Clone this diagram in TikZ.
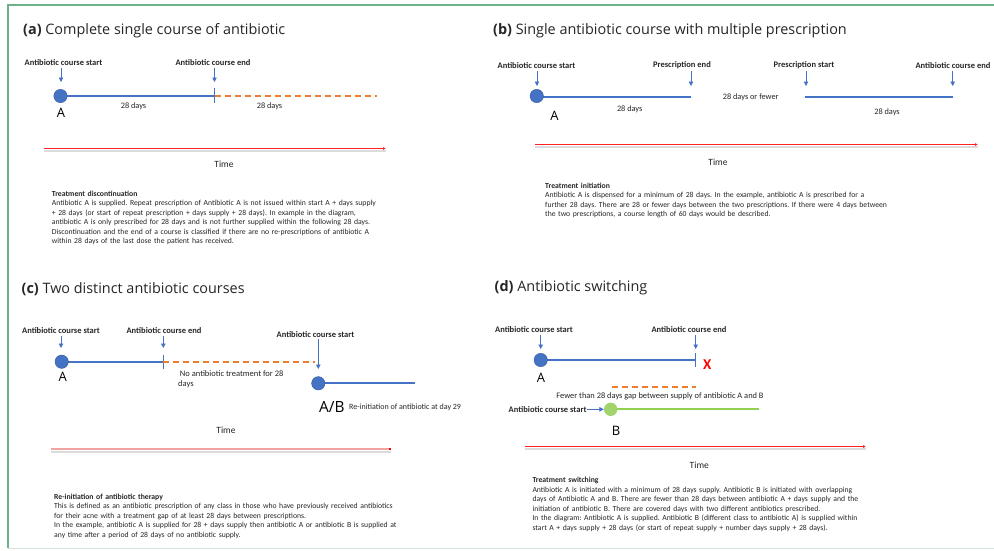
\documentclass[tikz,border=0pt]{standalone}
\usepackage{fontspec}
\setmainfont{Carlito}
\newfontfamily\ttlfont{Open Sans}
\usetikzlibrary{arrows.meta}
\definecolor{abblue}{HTML}{4472C4}
\definecolor{aborange}{HTML}{ED7D31}
\definecolor{abgreen}{HTML}{92D050}
\definecolor{abgreendot}{HTML}{A2D46E}
\definecolor{frameg}{HTML}{6DB38A}
\definecolor{framel}{HTML}{D3E3DC}
\definecolor{txt}{HTML}{262626}
\definecolor{axisred}{HTML}{FF2020}
\definecolor{axispink}{HTML}{F4A3A3}
\begin{document}
\frenchspacing
\begin{tikzpicture}[x=1pt,y=-1pt,
 ttl/.style={font=\ttlfont\fontsize{14.4}{17}\selectfont, anchor=west, inner sep=0pt, text=txt},
 lbl/.style={font=\bfseries\fontsize{8.5}{10}\selectfont, inner sep=0pt, text=txt},
 days/.style={font=\fontsize{8.3}{10.4}\selectfont, inner sep=0pt, text=txt},
 letter/.style={font=\ttlfont\fontsize{13}{15}\selectfont, inner sep=0pt, text=black},
 timelbl/.style={font=\fontsize{9.5}{11}\selectfont, inner sep=0pt, text=txt},
 para/.style={font=\fontsize{7.7}{9.5}\selectfont, anchor=base west, text width=420pt, align=left, inner sep=0pt, text=txt},
 dot/.style={circle, fill=abblue, draw=abblue!80!black, line width=0.4pt, minimum size=13.4pt, inner sep=0pt},
 gdot/.style={circle, fill=abgreendot, minimum size=13.4pt, inner sep=0pt},
 pointer/.style={abblue, line width=0.8pt, -{Triangle[length=4.5pt,width=4.5pt]}},
 course/.style={abblue, line width=1.5pt},
 gcourse/.style={abgreen, line width=1.5pt},
 gap/.style={aborange, line width=1.6pt, dash pattern=on 6pt off 4pt},
 timeaxis/.style={axisred, line width=0.9pt, -{Latex[length=3pt,width=3pt]}},
 pinkaxis/.style={axispink, line width=2pt},
 axshadow/.style={black!40, line width=2pt, opacity=0.35},
]
\useasboundingbox (0,0) rectangle (994,550);
\fill[white] (0,0) rectangle (994,550);
% frame
\draw[frameg, line width=2pt] (7,5) -- (994,5);
\draw[frameg, line width=2.5pt] (8,4) -- (8,548);
\draw[framel, line width=1.5pt] (8,548.5) -- (994,548.5);

% ---------------- (a)
\node[ttl] (aT) at (23,31) {\textbf{(a)} Complete single course of antibiotic};
\node[lbl] (aS) at (63.5,62.7) {Antibiotic course start};
\node[lbl] (aE) at (213,62.7) {Antibiotic course end};
\coordinate (aSt) at (61,82);
\coordinate (aEt) at (214.5,82);
\coordinate (aEnd) at (214.5,96);
\coordinate (aGap) at (377,96);
\draw[course] (61,96) -- (aEnd);
\node[dot] (aA) at (60.5,96) {};
\draw[pointer] ([yshift=-2pt]aS.south -| aSt) -- (aSt);
\draw[pointer] ([yshift=-2pt]aE.south -| aEt) -- (aEt);
\draw[course] ([yshift=8pt]aEnd) -- ([yshift=-7pt]aEnd);
\draw[gap] (aEnd) -- (aGap);
\node[days] (aD1) at (133.5,106.7) {28 days};
\node[days] (aD2) at (269.5,106.7) {28 days};
\node[letter] (aL) at (61,112.5) {A};
\coordinate (aX0) at (44.3,148.5);
\coordinate (aX1) at (386,148.5);
\draw[axshadow] ([yshift=-2pt]aX0) -- ([yshift=-2pt]aX1);
\draw[timeaxis] (aX0) -- (aX1);
\node[timelbl] (aTime) at (224,164.7) {Time};
\node[para] (aP) at (51.7,196) {\textbf{Treatment discontinuation}\\
Antibiotic A is supplied. Repeat prescription of Antibiotic A is not issued within start A + days supply\\
+ 28 days (or start of repeat prescription + days supply + 28 days). In example in the diagram,\\
antibiotic A is only prescribed for 28 days and is not further supplied within the following 28 days.\\
Discontinuation and the end of a course is classified if there are no re-prescriptions of antibiotic A\\
within 28 days of the last dose the patient has received.};

% ---------------- (b)
\node[ttl] (bT) at (493,31) {\textbf{(b)} Single antibiotic course with multiple prescription};
\node[lbl] (bS) at (536.5,65.7) {Antibiotic course start};
\node[lbl] (bPE) at (682,65.3) {Prescription end};
\node[lbl] (bPS) at (804,65.3) {Prescription start};
\node[lbl] (bE) at (953,65.7) {Antibiotic course end};
\coordinate (bSt) at (537,86);
\coordinate (bPEt) at (691,86);
\coordinate (bPSt) at (806,86);
\coordinate (bEt) at (952.7,86);
\draw[pointer] ([yshift=-2pt]bS.south -| bSt) -- (bSt);
\draw[pointer] ([yshift=-2pt]bPE.south -| bPEt) -- (bPEt);
\draw[pointer] ([yshift=-2pt]bPS.south -| bPSt) -- (bPSt);
\draw[pointer] ([yshift=-2pt]bE.south -| bEt) -- (bEt);
\coordinate (bL1e) at (691,97);
\coordinate (bL2s) at (805,97);
\coordinate (bL2e) at (952.7,97);
\draw[course] (537,97) -- (bL1e);
\node[dot] (bA) at (536.7,96) {};
\draw[course] (bL2s) -- (bL2e);
\node[days] (bGap) at (750.7,97.3) {28 days or fewer};
\node[days] (bD1) at (629.7,109) {28 days};
\node[days] (bD2) at (887,112) {28 days};
\node[letter] (bL) at (554.5,116) {A};
\coordinate (bX0) at (535,144.5);
\coordinate (bX1) at (978,144.5);
\draw[axshadow] ([yshift=-2pt]bX0) -- ([yshift=-2pt]bX1);
\draw[timeaxis] (bX0) -- (bX1);
\node[timelbl] (bTime) at (718,162) {Time};
\node[para] (bP) at (545,188.2) {\textbf{Treatment initiation}\\
Antibiotic A is dispensed for a minimum of 28 days. In the example, antibiotic A is prescribed for a\\
further 28 days. There are 28 or fewer days between the two prescriptions. If there were 4 days between\\
the two prescriptions, a course length of 60 days would be described.};

% ---------------- (c)
\node[ttl] (cT) at (21.5,289) {\textbf{(c)} Two distinct antibiotic courses};
\node[lbl] (cS) at (61,331) {Antibiotic course start};
\node[lbl] (cE) at (164,331) {Antibiotic course end};
\node[lbl] (cS2) at (315.5,334.3) {Antibiotic course start};
\coordinate (cSt) at (61,348);
\coordinate (cEt) at (163.3,348);
\coordinate (cS2t) at (318.3,369);
\draw[pointer] ([yshift=-2pt]cS.south -| cSt) -- (cSt);
\draw[pointer] ([yshift=-2pt]cE.south -| cEt) -- (cEt);
\draw[pointer] ([yshift=-1pt]cS2.south -| cS2t) -- (cS2t);
\coordinate (cEnd) at (163.3,362);
\coordinate (cGap) at (315,362);
\draw[course] (62,362) -- (cEnd);
\node[dot] (cA) at (61.7,361.7) {};
\draw[course] ([yshift=7pt]cEnd) -- ([yshift=-7pt]cEnd);
\draw[gap] (cEnd) -- (cGap);
\coordinate (cB2e) at (415,383);
\draw[course] (318.3,383) -- (cB2e);
\node[dot] (cB) at (318.3,383.3) {};
\node[letter] (cL) at (62.7,377) {A};
\node[days, anchor=north west, align=left, font=\fontsize{8.5}{10.7}\selectfont] (cNo) at (178,370) {\hspace{1.7pt}No antibiotic treatment for 28\\days};
\node[letter, anchor=west, font=\ttlfont\fontsize{15.4}{17}\selectfont] (cAB) at (319,406.5) {A/B};
\node[days, anchor=west, font=\fontsize{8}{10}\selectfont] (cRe) at (349,407.7) {Re-initiation of antibiotic at day 29};
\node[timelbl] (cTime) at (226,430.7) {Time};
\coordinate (cX0) at (51,449);
\coordinate (cX1) at (391,449);
\draw[axshadow] ([yshift=-2.5pt]cX0) -- ([yshift=-2.5pt]cX1);
\draw[pinkaxis] (cX0) -- (cX1);
\fill[red] (389,448) rectangle (391,450);
\node[para] (cP) at (54,499) {\textbf{Re-initiation of antibiotic therapy}\\
This is defined as an antibiotic prescription of any class in those who have previously received antibiotics\\
for their acne with a treatment gap of at least 28 days between prescriptions.\\
In the example, antibiotic A is supplied for 28 + days supply then antibiotic A or antibiotic B is supplied at\\
any time after a period of 28 days of no antibiotic supply.};

% ---------------- (d)
\node[ttl] (dT) at (494.5,288) {\textbf{(d)} Antibiotic switching};
\node[lbl] (dS) at (534,329.3) {Antibiotic course start};
\node[lbl] (dE) at (689,330) {Antibiotic course end};
\coordinate (dSt) at (540.7,349);
\coordinate (dEt) at (695.7,349);
\draw[pointer] ([yshift=-2pt]dS.south -| dSt) -- (dSt);
\draw[pointer] ([yshift=-2pt]dE.south -| dEt) -- (dEt);
\coordinate (dEnd) at (695.5,360);
\draw[course] (541,360) -- (dEnd);
\node[dot] (dA) at (540.7,360) {};
\draw[course] ([yshift=7pt]dEnd) -- ([yshift=-7pt]dEnd);
\node[font=\bfseries\fontsize{15}{17}\selectfont, text=red, inner sep=0pt] (dX) at (707.3,365) {X};
\node[letter] (dL) at (541,378.3) {A};
\coordinate (dG0) at (611.7,387);
\coordinate (dG1) at (695.5,387);
\draw[gap] (dG0) -- (dG1);
\node[days, font=\fontsize{8.4}{10}\selectfont] (dFew) at (660,396.7) {Fewer than 28 days gap between supply of antibiotic A and B};
\node[lbl, anchor=east] (dS2) at (586.7,409.3) {Antibiotic course start};
\coordinate (dBe) at (759.3,409);
\draw[gcourse] (611,409) -- (dBe);
\node[gdot] (dB) at (610.7,409.3) {};
\draw[pointer] (dS2.east) -- (dB.west);
\node[letter] (dLB) at (616,430.7) {B};
\coordinate (dX0) at (525,446.5);
\coordinate (dX1) at (866,446.5);
\draw[axshadow] ([yshift=-2pt]dX0) -- ([yshift=-2pt]dX1);
\draw[timeaxis] (dX0) -- (dX1);
\node[timelbl] (dTime) at (699.3,465.5) {Time};
\node[para] (dP) at (532.3,482.5) {\textbf{Treatment switching}\\
Antibiotic A is initiated with a minimum of 28 days supply. Antibiotic B is initiated with overlapping\\
days of Antibiotic A and B. There are fewer than 28 days between antibiotic A + days supply and the\\
initiation of antibiotic B. There are covered days with two different antibiotics prescribed.\\
In the diagram: Antibiotic A is supplied. Antibiotic B (different class to antibiotic A) is supplied within\\
start A + days supply + 28 days (or start of repeat supply + number days supply + 28 days).};
\end{tikzpicture}
\end{document}
